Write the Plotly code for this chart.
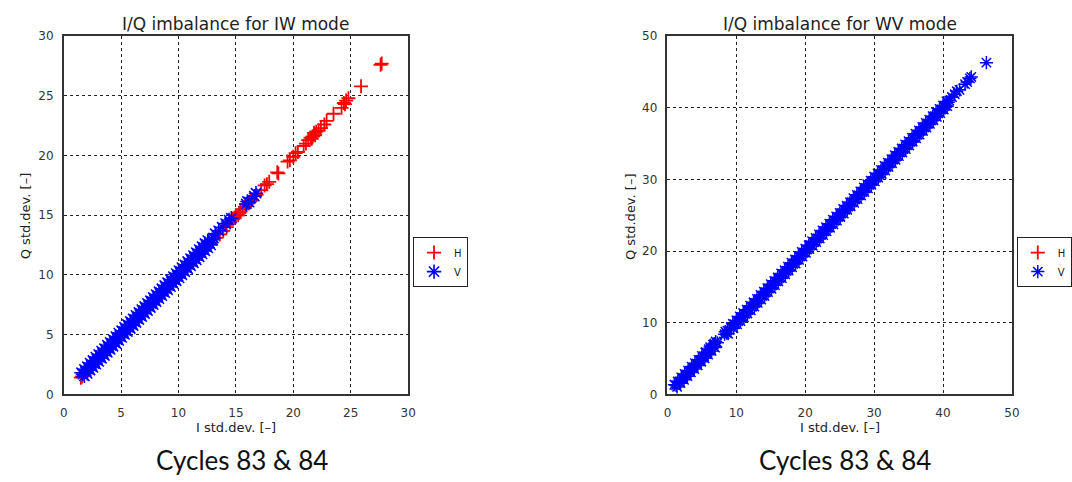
import plotly.graph_objects as go

# ---------------- data ----------------
# IW mode, H polarisation (red '+')
iw_h_i = [1.5, 1.6, 2.5, 4.0, 6.0, 8.0, 10.0, 12.0, 12.8, 13.3, 13.6, 13.9, 14.2, 14.5, 14.7, 14.9,
          15.0, 15.2, 15.3, 15.4, 15.6, 15.8, 15.9, 16.1, 16.4, 16.8, 17.2, 17.5, 17.7, 17.9,
          18.6, 18.7, 19.5, 19.7, 20.0, 20.2, 20.4, 20.9, 21.1, 21.3, 21.5, 21.6, 21.7, 21.8,
          21.9, 22.0, 22.2, 22.4, 22.7, 22.9, 23.5, 24.2, 24.4, 24.5, 24.6, 24.8, 25.9, 27.6, 27.7]
iw_h_q = [1.4, 1.5, 2.4, 3.9, 5.9, 7.9, 9.9, 11.8, 12.6, 13.1, 13.4, 13.7, 14.0, 14.4, 14.7, 14.8,
          15.0, 15.0, 15.2, 15.3, 15.5, 15.7, 15.9, 16.0, 16.3, 16.7, 17.1, 17.5, 17.6, 17.8,
          18.6, 18.5, 19.5, 19.6, 19.9, 20.2, 20.3, 20.8, 21.0, 21.3, 21.5, 21.4, 21.6, 21.9,
          21.7, 22.0, 22.1, 22.3, 22.6, 22.9, 23.5, 24.0, 24.4, 24.3, 24.6, 24.8, 25.8, 27.6, 27.7]

# IW mode, V polarisation (blue '*')
iw_v_i = [1.55, 1.80, 2.05, 2.30, 2.55, 2.80, 3.05, 3.30, 3.55, 3.80,
          4.05, 4.30, 4.55, 4.80, 5.05, 5.30, 5.55, 5.80, 6.05, 6.30,
          6.55, 6.80, 7.05, 7.30, 7.55, 7.80, 8.05, 8.30, 8.55, 8.80,
          9.05, 9.30, 9.55, 9.80, 10.05, 10.30, 10.55, 10.80, 11.05, 11.30,
          11.55, 11.80, 12.05, 12.30, 12.55,
          1.68, 1.93, 2.18, 2.43, 2.68, 2.93, 3.18, 3.43, 3.68, 3.93,
          4.18, 4.43, 4.68, 4.93, 5.18, 5.43, 5.68, 5.93, 6.18, 6.43,
          6.68, 6.93, 7.18, 7.43, 7.68, 7.93, 8.18, 8.43, 8.68, 8.93,
          9.18, 9.43, 9.68, 9.93, 10.18, 10.43, 10.68, 10.93, 11.18, 11.43,
          11.68, 11.93, 12.18, 12.43, 12.68, 12.93,
          1.80, 2.05, 2.30, 2.55, 2.80, 3.05, 3.30, 3.55, 3.80, 4.05,
          4.30, 4.55, 4.80, 5.05, 5.30, 5.55, 5.80, 6.05, 6.30, 6.55,
          6.80, 7.05, 7.30, 7.55, 7.80, 8.05, 8.30, 8.55, 8.80, 9.05,
          9.30, 9.55, 9.80, 10.05, 10.30, 10.55, 10.80, 11.05, 11.30, 11.55,
          11.80, 12.05, 12.30, 12.55, 12.80,
          13.05, 13.2, 13.5, 13.8, 14.1, 14.4, 14.6, 15.9, 16.0, 16.15, 16.6, 16.75]
iw_v_q = [1.82, 2.10, 2.33, 2.62, 2.84, 3.12, 3.34, 3.63, 3.83, 4.12,
          4.35, 4.61, 4.84, 5.13, 5.33, 5.62, 5.86, 6.11, 6.33, 6.62,
          6.86, 7.10, 7.36, 7.61, 7.84, 8.12, 8.36, 8.60, 8.85, 9.12,
          9.35, 9.62, 9.86, 10.12, 10.36, 10.62, 10.85, 11.13, 11.36, 11.62,
          11.86, 12.13, 12.38, 12.64, 12.88,
          1.70, 1.90, 2.21, 2.41, 2.70, 2.92, 3.20, 3.41, 3.70, 3.92,
          4.20, 4.42, 4.70, 4.91, 5.21, 5.42, 5.70, 5.92, 6.20, 6.41,
          6.71, 6.92, 7.20, 7.42, 7.70, 7.91, 8.21, 8.42, 8.70, 8.92,
          9.21, 9.42, 9.71, 9.91, 10.21, 10.42, 10.70, 10.92, 11.21, 11.42,
          11.71, 11.92, 12.20, 12.42, 12.71, 12.95,
          1.55, 1.76, 2.03, 2.26, 2.53, 2.76, 3.03, 3.26, 3.52, 3.77,
          4.03, 4.26, 4.52, 4.77, 5.02, 5.27, 5.52, 5.77, 6.02, 6.27,
          6.52, 6.77, 7.02, 7.27, 7.52, 7.77, 8.02, 8.27, 8.52, 8.76,
          9.02, 9.27, 9.52, 9.76, 10.02, 10.27, 10.52, 10.77, 11.02, 11.26,
          11.52, 11.77, 12.02, 12.27, 12.52,
          13.1, 13.45, 13.7, 14.0, 14.3, 14.6, 14.75, 15.95, 16.15, 16.1, 16.6, 16.85]

# WV mode, H polarisation (no points visible; placeholder keeps the legend entry)
wv_h_i = [None]
wv_h_q = [None]

# WV mode, V polarisation (blue '*')
wv_v_i = [1.0, 1.5, 2.0, 2.5, 3.0, 3.5, 4.0, 4.5, 5.0, 5.5, 6.0, 6.6, 7.0, 8.4,
          9.5, 10.0, 10.5, 11.0, 11.5, 12.0, 12.5, 13.0, 13.5, 14.0,
          14.5, 15.0, 15.5, 16.0, 16.5, 17.0, 17.5, 18.0, 18.5, 19.0,
          19.5, 20.0, 20.5, 21.0, 21.5, 22.0, 22.5, 23.0, 23.5, 24.0,
          24.5, 25.0, 25.5, 26.0, 26.5, 27.0, 27.5, 28.0, 28.5, 29.0,
          29.5, 30.0, 30.5, 31.0, 31.5, 32.0, 32.5, 33.0, 33.5, 34.0,
          34.5, 35.0, 35.5, 36.0, 36.5, 37.0, 37.5, 38.0, 38.5, 39.0,
          39.5, 40.0, 40.5,
          1.25, 1.75, 2.25, 2.75, 3.25, 3.75, 4.25, 4.75, 5.25, 5.75, 6.25, 6.75, 7.25, 8.6,
          9.75, 10.25, 10.75, 11.25, 11.75, 12.25, 12.75, 13.25, 13.75, 14.25,
          14.75, 15.25, 15.75, 16.25, 16.75, 17.25, 17.75, 18.25, 18.75, 19.25,
          19.75, 20.25, 20.75, 21.25, 21.75, 22.25, 22.75, 23.25, 23.75, 24.25,
          24.75, 25.25, 25.75, 26.25, 26.75, 27.25, 27.75, 28.25, 28.75, 29.25,
          29.75, 30.25, 30.75, 31.25, 31.75, 32.25, 32.75, 33.25, 33.75, 34.25,
          34.75, 35.25, 35.75, 36.25, 36.75, 37.25, 37.75, 38.25, 38.75, 39.25,
          39.75, 40.25, 40.75,
          1.4, 1.9, 2.4, 2.9, 3.4, 3.9, 4.4, 4.9, 5.4, 5.9, 6.4, 6.9, 8.8,
          9.6, 10.1, 10.6, 11.1, 11.6, 12.1, 12.6, 13.1, 13.6, 14.1,
          14.6, 15.1, 15.6, 16.1, 16.6, 17.1, 17.6, 18.1, 18.6, 19.1,
          19.6, 20.1, 20.6, 21.1, 21.6, 22.1, 22.6, 23.1, 23.6, 24.1,
          24.6, 25.1, 25.6, 26.1, 26.6, 27.1, 27.6, 28.1, 28.6, 29.1,
          29.6, 30.1, 30.6, 31.1, 31.6, 32.1, 32.6, 33.1, 33.6, 34.1,
          34.6, 35.1, 35.6, 36.1, 36.6, 37.1, 37.6, 38.1, 38.6, 39.1,
          39.6, 40.1, 40.6,
          40.9, 41.3, 41.7, 42.0, 42.4, 43.2, 43.5, 43.9, 44.1, 46.3,
          5.6, 6.2, 6.8, 8.3, 8.7, 9.2]
wv_v_q = [1.35, 1.82, 2.38, 2.85, 3.32, 3.88, 4.35, 4.82, 5.38, 5.85, 6.32, 6.95, 7.38, 8.75,
          9.85, 10.32, 10.88, 11.35, 11.82, 12.38, 12.85, 13.32, 13.88, 14.35,
          14.82, 15.38, 15.85, 16.32, 16.88, 17.35, 17.82, 18.38, 18.85, 19.32,
          19.88, 20.35, 20.82, 21.38, 21.85, 22.32, 22.88, 23.35, 23.82, 24.38,
          24.85, 25.32, 25.88, 26.35, 26.82, 27.38, 27.85, 28.32, 28.88, 29.35,
          29.82, 30.38, 30.85, 31.32, 31.88, 32.35, 32.82, 33.38, 33.85, 34.32,
          34.88, 35.35, 35.82, 36.38, 36.85, 37.32, 37.88, 38.35, 38.82, 39.38,
          39.85, 40.32, 40.88,
          1.27, 1.73, 2.28, 2.74, 3.27, 3.73, 4.28, 4.74, 5.27, 5.73, 6.30, 6.72, 7.20, 8.55,
          9.77, 10.23, 10.78, 11.24, 11.77, 12.23, 12.78, 13.24, 13.77, 14.23,
          14.78, 15.24, 15.77, 16.23, 16.78, 17.24, 17.77, 18.23, 18.78, 19.24,
          19.77, 20.23, 20.78, 21.24, 21.77, 22.23, 22.78, 23.24, 23.77, 24.23,
          24.78, 25.24, 25.77, 26.23, 26.78, 27.24, 27.77, 28.23, 28.78, 29.24,
          29.77, 30.23, 30.78, 31.24, 31.77, 32.23, 32.78, 33.24, 33.77, 34.23,
          34.78, 35.24, 35.77, 36.23, 36.78, 37.24, 37.77, 38.23, 38.78, 39.24,
          39.77, 40.23, 40.78,
          1.05, 1.57, 2.03, 2.55, 3.07, 3.53, 4.05, 4.57, 5.03, 5.55, 6.07, 6.53, 8.47,
          9.25, 9.77, 10.23, 10.75, 11.27, 11.73, 12.25, 12.77, 13.23, 13.75,
          14.27, 14.73, 15.25, 15.77, 16.23, 16.75, 17.27, 17.73, 18.25, 18.77,
          19.23, 19.75, 20.27, 20.73, 21.25, 21.77, 22.23, 22.75, 23.27, 23.73,
          24.25, 24.77, 25.23, 25.75, 26.27, 26.73, 27.25, 27.77, 28.23, 28.75,
          29.27, 29.73, 30.25, 30.77, 31.23, 31.75, 32.27, 32.73, 33.25, 33.77,
          34.23, 34.75, 35.27, 35.73, 36.25, 36.77, 37.23, 37.75, 38.27, 38.73,
          39.25, 39.77, 40.23,
          41.0, 41.5, 41.9, 42.3, 42.5, 43.3, 43.6, 44.1, 44.3, 46.3,
          5.9, 6.6, 7.1, 8.4, 8.9, 9.4]

assert len(iw_h_i) == len(iw_h_q), (len(iw_h_i), len(iw_h_q))
assert len(iw_v_i) == len(iw_v_q), (len(iw_v_i), len(iw_v_q))
assert len(wv_v_i) == len(wv_v_q), (len(wv_v_i), len(wv_v_q))

titles = ["I/Q imbalance for IW mode", "I/Q imbalance for WV mode"]
x_label = "I std.dev. [–]"
y_label = "Q std.dev. [–]"
caption = "Cycles 83 & 84"
iw_ticks = [0, 5, 10, 15, 20, 25, 30]
wv_ticks = [0, 10, 20, 30, 40, 50]

# ---------------- figure ----------------
W, H = 1072, 482
RED, BLUE = "#ff0000", "#0000ff"
TICKFONT = dict(family="DejaVu Sans", size=12, color="#333333")

fig = go.Figure()

h_marker = dict(symbol="cross-thin-open", size=10, color=RED, line=dict(color=RED, width=1.8))
v_marker_iw = dict(symbol="asterisk-open", size=12, color=BLUE, line=dict(color=BLUE, width=1.6))
v_marker_wv = dict(symbol="asterisk-open", size=11, color=BLUE, line=dict(color=BLUE, width=1.5))

fig.add_trace(go.Scatter(x=iw_h_i, y=iw_h_q, mode="markers", name="H", marker=h_marker,
                         xaxis="x", yaxis="y", legend="legend"))
fig.add_trace(go.Scatter(x=iw_v_i, y=iw_v_q, mode="markers", name="V", marker=v_marker_iw,
                         xaxis="x", yaxis="y", legend="legend"))
fig.add_trace(go.Scatter(x=wv_h_i, y=wv_h_q, mode="markers", name="H", marker=h_marker,
                         xaxis="x2", yaxis="y2", legend="legend2", showlegend=True))
fig.add_trace(go.Scatter(x=wv_v_i, y=wv_v_q, mode="markers", name="V", marker=v_marker_wv,
                         xaxis="x2", yaxis="y2", legend="legend2"))

def px_x(p):
    return p / W

def px_y(p):
    return 1 - p / H

ax_common = dict(showline=True, mirror=True, linecolor="#333333", linewidth=1.5,
                 showgrid=True, gridcolor="#222222", griddash="dot", gridwidth=1,
                 zeroline=False, ticks="outside", ticklen=0, tickfont=TICKFONT,
                 ticklabelstandoff=6, fixedrange=True)

legend_common = dict(xanchor="left", yanchor="top",
                     bordercolor="#222222", borderwidth=1, bgcolor="white",
                     font=dict(family="DejaVu Sans", size=10, color="#222222"),
                     itemwidth=30, tracegroupgap=0)

fig.update_layout(
    width=W, height=H,
    margin=dict(l=0, r=0, t=0, b=0),
    paper_bgcolor="white", plot_bgcolor="white",
    xaxis=dict(domain=[px_x(61), px_x(413)], range=[0, 30], tickvals=iw_ticks, anchor="y", **ax_common),
    yaxis=dict(domain=[px_y(399), px_y(30)], range=[0, 30], tickvals=iw_ticks, anchor="x", **ax_common),
    xaxis2=dict(domain=[px_x(678), px_x(1030)], range=[0, 50], tickvals=wv_ticks, anchor="y2", **ax_common),
    yaxis2=dict(domain=[px_y(399), px_y(30)], range=[0, 50], tickvals=wv_ticks, anchor="x2", **ax_common),
    legend=dict(x=px_x(418), y=px_y(237), **legend_common),
    legend2=dict(x=px_x(1035), y=px_y(237), **legend_common),
    showlegend=True,
)

ann = []
for cx, t in [(237, titles[0]), (854, titles[1])]:
    ann.append(dict(x=px_x(cx), y=px_y(17), xref="paper", yref="paper", text=t, showarrow=False,
                    xanchor="center", yanchor="middle",
                    font=dict(family="DejaVu Sans", size=17, color="#222222")))
for cx in [237, 854]:
    ann.append(dict(x=px_x(cx), y=px_y(433), xref="paper", yref="paper", text=x_label, showarrow=False,
                    xanchor="center", yanchor="middle",
                    font=dict(family="DejaVu Sans", size=13, color="#222222")))
for cx in [22, 640]:
    ann.append(dict(x=px_x(cx), y=px_y(216), xref="paper", yref="paper", text=y_label, showarrow=False,
                    xanchor="center", yanchor="middle", textangle=-90,
                    font=dict(family="DejaVu Sans", size=13, color="#222222")))
for cx in [243, 859]:
    ann.append(dict(x=px_x(cx), y=px_y(467), xref="paper", yref="paper", text=caption, showarrow=False,
                    xanchor="center", yanchor="middle",
                    font=dict(family="Lato", size=26, color="#111111")))
fig.update_layout(annotations=ann)

fig.write_html("out.html")
